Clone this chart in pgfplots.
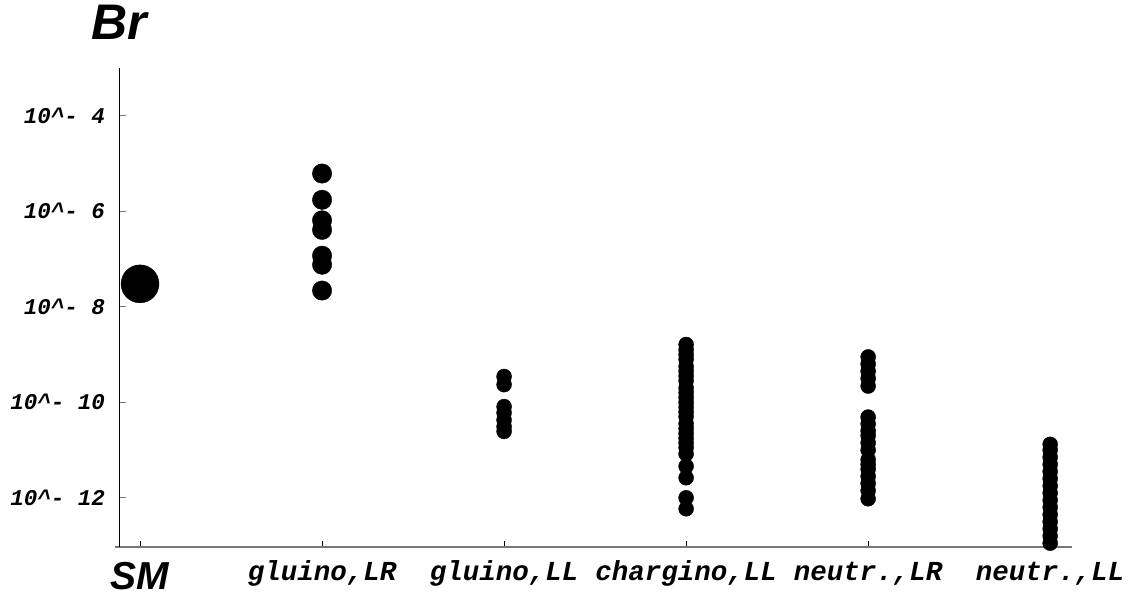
\documentclass[border=0pt]{standalone}
\usepackage{fontspec}
\setmainfont{Liberation Sans}
\newfontfamily\cour{Liberation Mono}
\usepackage{pgfplots}
\pgfplotsset{compat=1.18}
\definecolor{axgray}{RGB}{120,120,120}
\begin{document}
\begin{tikzpicture}
\path[use as bounding box] (0,0) rectangle (1131pt,601pt);
\begin{axis}[
  at={(120pt,54pt)}, anchor=south west,
  scale only axis, width=952pt, height=479pt,
  xmin=-0.11, xmax=5.12, ymin=-13.03, ymax=-3,
  axis lines=left, axis line style={-},
  x axis line style={draw=axgray, line width=2pt, shorten <=-5pt},
  y axis line style={black, line width=1pt},
  tick align=inside, major tick length=6pt,
  xtick={0,1,2,3,4,5},
  xticklabels={{\raisebox{-9pt}{\rmfamily\fontsize{39}{42}\selectfont\bfseries\itshape SM}},
    {gluino,LR},{gluino,LL},{chargino,LL},{neutr.,LR},{neutr.,LL}},
  xtick style={black, line width=0.8pt},
  ytick style={axgray, line width=0.8pt},
  ytick={-4,-6,-8,-10,-12},
  yticklabels={10\textasciicircum- 4,10\textasciicircum- 6,10\textasciicircum- 8,10\textasciicircum- 10,10\textasciicircum- 12},
  xticklabel style={anchor=base, yshift=-34pt, font=\fontsize{27.5}{32}\cour\bfseries\itshape},
  yticklabel style={anchor=east, inner sep=0pt, xshift=-15pt, font=\fontsize{22.5}{26}\cour\bfseries\itshape},
]
% SM
\addplot[only marks, mark=*, mark size=19pt, black] coordinates {(0,-7.52)};
% gluino, LR
\addplot[only marks, mark=*, mark size=9.7pt, black] coordinates {
(1,-5.21) (1,-5.76) (1,-6.19) (1,-6.39) (1,-6.93) (1,-7.12) (1,-7.66)};
% gluino, LL
\addplot[only marks, mark=*, mark size=7.5pt, black] coordinates {
(2,-9.46) (2,-9.63) (2,-10.09) (2,-10.22) (2,-10.37) (2,-10.51) (2,-10.61)};
% chargino, LL
\addplot[only marks, mark=*, mark size=7.5pt, black] coordinates {
(3,-8.79) (3,-8.9) (3,-9.0) (3,-9.1) (3,-9.25) (3,-9.35) (3,-9.45) (3,-9.55)
(3,-9.7) (3,-9.8) (3,-9.9) (3,-10.0) (3,-10.1) (3,-10.2) (3,-10.3) (3,-10.45)
(3,-10.55) (3,-10.65) (3,-10.75) (3,-10.85) (3,-10.95) (3,-11.08)
(3,-11.34) (3,-11.58) (3,-12.0) (3,-12.23)};
% neutr., LR
\addplot[only marks, mark=*, mark size=7.5pt, black] coordinates {
(4,-9.05) (4,-9.2) (4,-9.35) (4,-9.5) (4,-9.66)
(4,-10.31) (4,-10.45) (4,-10.6) (4,-10.7) (4,-10.85) (4,-11.0) (4,-11.2)
(4,-11.3) (4,-11.4) (4,-11.55) (4,-11.7) (4,-11.85) (4,-12.02)};
% neutr., LL
\addplot[only marks, mark=*, mark size=7.5pt, black] coordinates {
(5,-10.88) (5,-11.0) (5,-11.15) (5,-11.3) (5,-11.45) (5,-11.6) (5,-11.75)
(5,-11.9) (5,-12.05) (5,-12.2) (5,-12.35) (5,-12.5) (5,-12.65) (5,-12.8)
(5,-12.95) (5,-13.1)};
\end{axis}
\node[anchor=base west, inner sep=0pt, font=\fontsize{50}{54}\selectfont\bfseries\itshape] at (91pt,561.5pt) {Br};
\end{tikzpicture}
\end{document}
